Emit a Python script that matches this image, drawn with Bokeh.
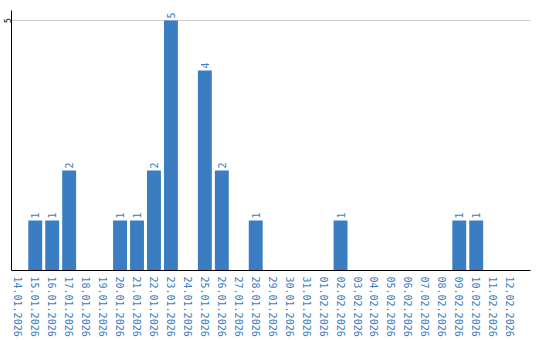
import math
from bokeh.plotting import figure
from bokeh.models import ColumnDataSource, FixedTicker, Range1d
from bokeh.core.properties import value
from bokeh.embed import file_html
from bokeh.resources import INLINE

dates = ["14.01.2026", "15.01.2026", "16.01.2026", "17.01.2026", "18.01.2026",
         "19.01.2026", "20.01.2026", "21.01.2026", "22.01.2026", "23.01.2026",
         "24.01.2026", "25.01.2026", "26.01.2026", "27.01.2026", "28.01.2026",
         "29.01.2026", "30.01.2026", "31.01.2026", "01.02.2026", "02.02.2026",
         "03.02.2026", "04.02.2026", "05.02.2026", "06.02.2026", "07.02.2026",
         "08.02.2026", "09.02.2026", "10.02.2026", "11.02.2026", "12.02.2026"]
counts = [0, 1, 1, 2, 0, 0, 1, 1, 2, 5, 0, 4, 2, 0, 1,
          0, 0, 0, 0, 1, 0, 0, 0, 0, 0, 0, 1, 1, 0, 0]
y_ticks = [5]

BLUE = "#3a7dc2"
FONT = "DejaVu Sans Mono"

idx = list(range(len(dates)))
labels = [str(c) if c > 0 else "" for c in counts]
src = ColumnDataSource(dict(x=idx, top=counts, lab=labels))

p = figure(width=540, height=340, x_range=Range1d(-0.4, 30.2),
           y_range=Range1d(0, 5.2), output_backend="svg", toolbar_location=None,
           min_border_left=10, min_border_right=10, min_border_top=10, min_border_bottom=70)
p.outline_line_color = None
p.background_fill_color = "white"

p.vbar(x="x", top="top", width=0.82, source=src, color=BLUE, line_color=None)
p.text(x="x", y="top", text="lab", source=src, angle=math.pi/2, y_offset=-2,
       text_align="left", text_baseline="middle", text_color=BLUE,
       text_font=value(FONT), text_font_size="10px")

p.xgrid.grid_line_color = None
p.ygrid.ticker = FixedTicker(ticks=y_ticks)
p.ygrid.grid_line_color = "#cccccc"
p.ygrid.grid_line_width = 1

p.yaxis.ticker = FixedTicker(ticks=y_ticks)
p.yaxis.major_label_orientation = "vertical"
p.yaxis.major_label_text_font = FONT
p.yaxis.major_label_text_font_size = "8px"
p.yaxis.major_label_text_color = "black"
p.yaxis.major_tick_out = 0
p.yaxis.major_tick_in = 0
p.yaxis.minor_tick_line_color = None
p.yaxis.major_label_standoff = 1
p.yaxis.axis_line_color = "black"

p.xaxis.ticker = FixedTicker(ticks=idx)
p.xaxis.major_label_overrides = {i: d for i, d in zip(idx, dates)}
p.xaxis.major_label_orientation = "vertical"
p.xaxis.major_label_text_font = FONT
p.xaxis.major_label_text_font_size = "10px"
p.xaxis.major_label_text_color = BLUE
p.xaxis.major_tick_line_color = None
p.xaxis.minor_tick_line_color = None
p.xaxis.major_tick_out = 0
p.xaxis.major_label_standoff = 6
p.xaxis.axis_line_color = "black"

open("out.html", "w").write(file_html(p, INLINE))
